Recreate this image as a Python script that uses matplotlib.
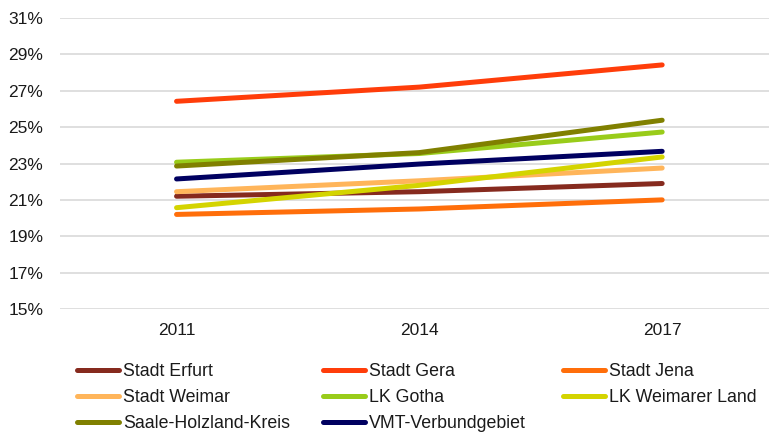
import matplotlib
matplotlib.use("Agg")
import matplotlib.pyplot as plt

plt.rcParams['font.family'] = ['Liberation Sans', 'DejaVu Sans']

# Daten
jahre = ["2011", "2014", "2017"]
erfurt = [21.2, 21.45, 21.9]
gera = [26.42, 27.2, 28.42]
jena = [20.2, 20.5, 21.0]
weimar = [21.45, 22.05, 22.75]
gotha = [23.07, 23.55, 24.73]
weimarer_land = [20.57, 21.8, 23.36]
saale_holzland = [22.86, 23.6, 25.38]
vmt = [22.15, 22.97, 23.67]

reihen = [
    ("Stadt Erfurt", erfurt, "#862a1e"),
    ("Stadt Gera", gera, "#ff3d0a"),
    ("Stadt Jena", jena, "#ff6e0a"),
    ("Stadt Weimar", weimar, "#ffb55a"),
    ("LK Gotha", gotha, "#99cc1a"),
    ("LK Weimarer Land", weimarer_land, "#d4d400"),
    ("Saale-Holzland-Kreis", saale_holzland, "#808000"),
    ("VMT-Verbundgebiet", vmt, "#000060"),
]

fig = plt.figure(figsize=(7.69, 4.32), dpi=100)
ax = fig.add_axes([60 / 769, (432 - 309) / 432, 709 / 769, (309 - 18) / 432])

x = list(range(len(jahre)))
handles = {}
for name, werte, farbe in reihen:
    line, = ax.plot(x, werte, color=farbe, lw=3.6, solid_capstyle='round', label=name)
    handles[name] = line

ax.set_xlim(-0.48, 2.44)
ax.set_ylim(15, 31)
ax.set_yticks(range(15, 32, 2))
ax.set_yticklabels([f"{v}%" for v in range(15, 32, 2)])
ax.set_xticks(x)
ax.set_xticklabels(jahre)
ax.grid(axis='y', color='#d9d9d9', lw=1.2)
ax.set_axisbelow(True)
for s in ax.spines.values():
    s.set_visible(False)
ax.tick_params(axis='both', length=0, labelsize=12.5, colors='#1a1a1a')
ax.tick_params(axis='y', pad=12)
ax.tick_params(axis='x', pad=10)

# Legende: drei Spalten mit fester Breite wie im Original
spalten = [
    (["Stadt Erfurt", "Stadt Weimar", "Saale-Holzland-Kreis"], 77),
    (["Stadt Gera", "LK Gotha", "VMT-Verbundgebiet"], 323),
    (["Stadt Jena", "LK Weimarer Land"], 563),
]
for namen, x0 in spalten:
    leg = fig.legend([handles[n] for n in namen], namen,
                     loc='upper left', bbox_to_anchor=(x0 / 769, 1 - 363 / 432),
                     frameon=False, fontsize=12.8, handlelength=2.36, handletextpad=0.25,
                     labelspacing=0.5, borderaxespad=0, borderpad=0)
    for t in leg.get_texts():
        t.set_color('#1a1a1a')

fig.savefig("out.png", dpi=100)
